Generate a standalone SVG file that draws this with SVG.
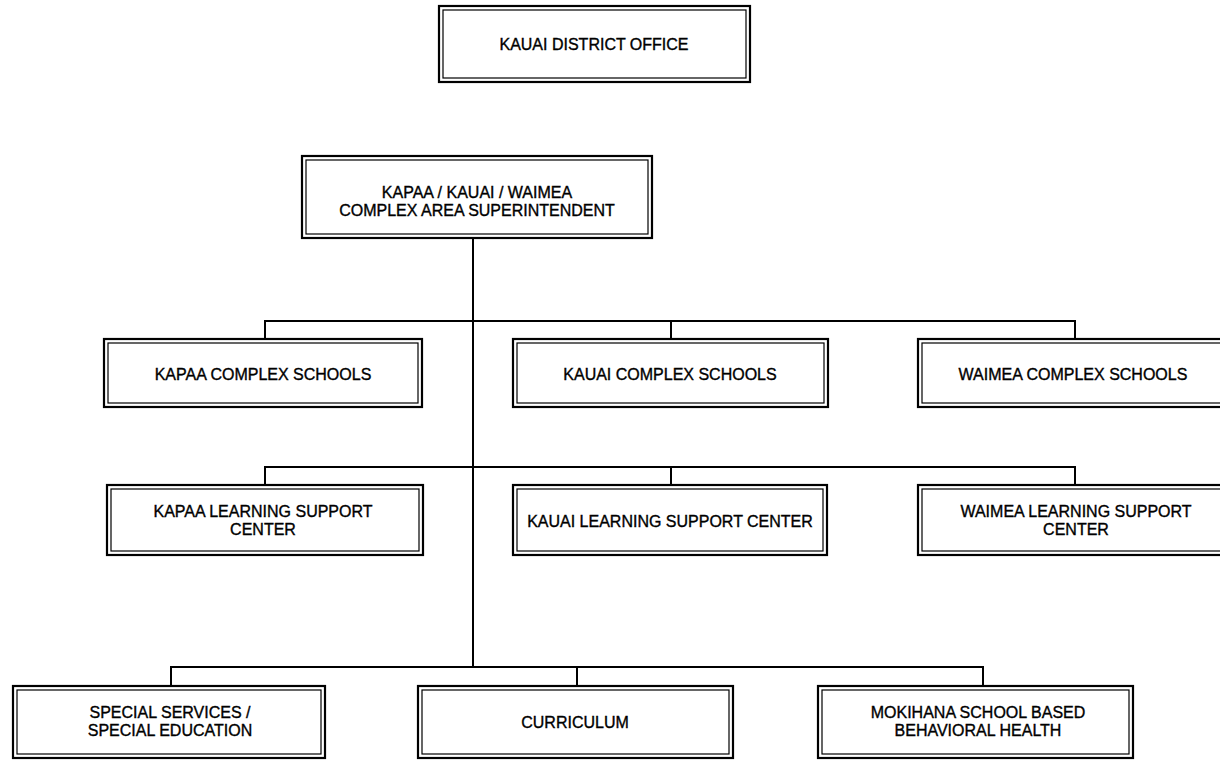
<svg xmlns="http://www.w3.org/2000/svg" width="1220" height="760" viewBox="0 0 1220 760">
<style>
.o{fill:#fff;stroke:#000;stroke-width:2.2}
.i{fill:none;stroke:#000;stroke-width:1.2}
.t{font-family:"Liberation Sans",Arial,sans-serif;font-size:16px;fill:#000;stroke:#000;stroke-width:0.35;text-anchor:middle;dominant-baseline:central}
.c{fill:none;stroke:#000;stroke-width:2}
</style>
<rect width="1220" height="760" fill="#fff"/>
<g id="connectors">
<path class="c" d="M473 238 V667" stroke-width="2.4"/>
<path class="c" d="M265 339 V321 H1075 V339 M671 321 V339"/>
<path class="c" d="M265 485 V467 H1075 V485 M671 467 V485"/>
<path class="c" d="M171 686 V667 H983 V686 M577 667 V686"/>
</g>
<g id="district">
<rect class="o" x="439" y="6" width="311" height="76"/>
<rect class="i" x="443" y="10" width="303" height="68"/>
<text class="t" x="594" y="44">KAUAI DISTRICT OFFICE</text>
</g>
<g id="superintendent">
<rect class="o" x="302" y="156" width="350" height="82"/>
<rect class="i" x="306" y="160" width="342" height="74"/>
<text class="t" x="477" y="192">KAPAA / KAUAI / WAIMEA</text>
<text class="t" x="477" y="210">COMPLEX AREA SUPERINTENDENT</text>
</g>
<g id="kapaa-schools">
<rect class="o" x="104" y="339" width="318" height="68"/>
<rect class="i" x="108" y="343" width="310" height="60"/>
<text class="t" x="263" y="374">KAPAA COMPLEX SCHOOLS</text>
</g>
<g id="kauai-schools">
<rect class="o" x="513" y="339" width="315" height="68"/>
<rect class="i" x="517" y="343" width="307" height="60"/>
<text class="t" x="670" y="374">KAUAI COMPLEX SCHOOLS</text>
</g>
<g id="waimea-schools">
<rect class="o" x="918" y="339" width="312" height="68"/>
<rect class="i" x="922" y="343" width="304" height="60"/>
<text class="t" x="1073" y="374">WAIMEA COMPLEX SCHOOLS</text>
</g>
<g id="kapaa-lsc">
<rect class="o" x="107" y="485" width="316" height="70"/>
<rect class="i" x="111" y="489" width="308" height="62"/>
<text class="t" x="263" y="511">KAPAA LEARNING SUPPORT</text>
<text class="t" x="263" y="529">CENTER</text>
</g>
<g id="kauai-lsc">
<rect class="o" x="513" y="485" width="314" height="70"/>
<rect class="i" x="517" y="489" width="306" height="62"/>
<text class="t" x="670" y="521">KAUAI LEARNING SUPPORT CENTER</text>
</g>
<g id="waimea-lsc">
<rect class="o" x="918" y="485" width="312" height="70"/>
<rect class="i" x="922" y="489" width="304" height="62"/>
<text class="t" x="1076" y="511">WAIMEA LEARNING SUPPORT</text>
<text class="t" x="1076" y="529">CENTER</text>
</g>
<g id="special-services">
<rect class="o" x="13" y="686" width="312" height="72"/>
<rect class="i" x="17" y="690" width="304" height="64"/>
<text class="t" x="170" y="712">SPECIAL SERVICES /</text>
<text class="t" x="170" y="730">SPECIAL EDUCATION</text>
</g>
<g id="curriculum">
<rect class="o" x="418" y="686" width="315" height="72"/>
<rect class="i" x="422" y="690" width="307" height="64"/>
<text class="t" x="575" y="722">CURRICULUM</text>
</g>
<g id="mokihana">
<rect class="o" x="818" y="686" width="315" height="72"/>
<rect class="i" x="822" y="690" width="307" height="64"/>
<text class="t" x="978" y="712">MOKIHANA SCHOOL BASED</text>
<text class="t" x="978" y="730">BEHAVIORAL HEALTH</text>
</g>
</svg>
